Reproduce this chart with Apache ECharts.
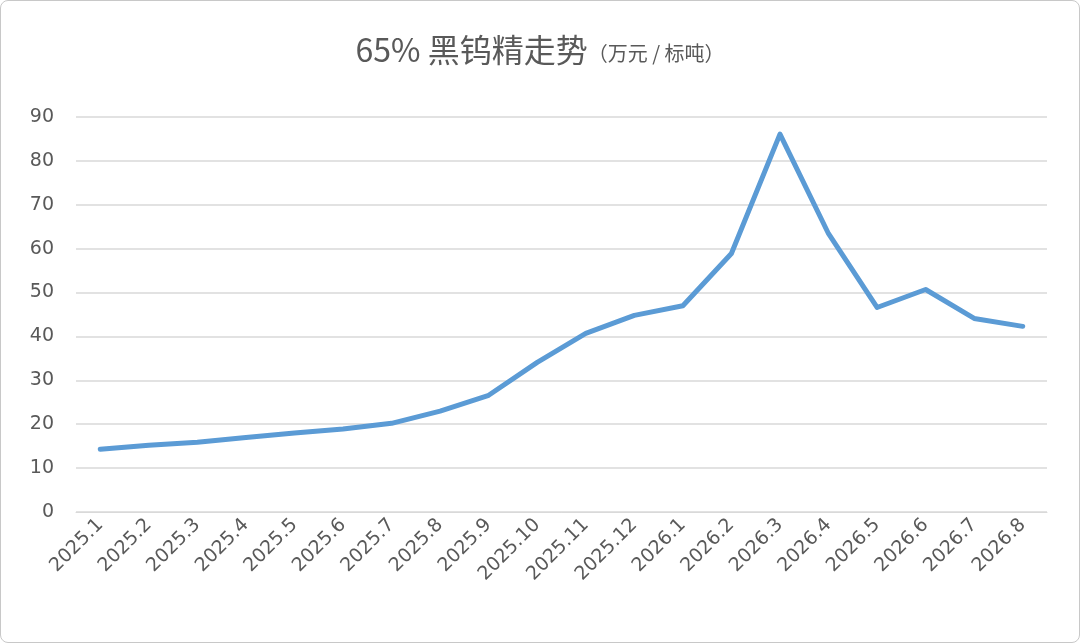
<!DOCTYPE html>
<html>
<head>
<meta charset="utf-8">
<script src="https://cdn.jsdelivr.net/npm/echarts@6/dist/echarts.min.js"></script>
<style>
  html, body { margin: 0; padding: 0; background: #fff; }
  #chart { width: 1078px; height: 641px; border: 1px solid #c8c8c8; border-radius: 8px; }
</style>
</head>
<body>
<div id="chart"></div>
<script>
// 65% black tungsten concentrate price trend
const months = ['2025.1', '2025.2', '2025.3', '2025.4', '2025.5', '2025.6', '2025.7', '2025.8', '2025.9', '2025.10',
  '2025.11', '2025.12', '2026.1', '2026.2', '2026.3', '2026.4', '2026.5', '2026.6', '2026.7', '2026.8'];
const prices = [14.3, 15.2, 15.9, 17.0, 18.0, 18.9, 20.2, 23.0, 26.6, 34.1,
  40.7, 44.8, 47.0, 58.9, 86.1, 63.4, 46.6, 50.7, 44.1, 42.3];

const chart = echarts.init(document.getElementById('chart'), null, { renderer: 'canvas' });
chart.setOption({
  animation: false,
  title: {
    text: '{a|65% 黑钨精走势}{b|（万元 / 标吨）}',
    left: 'center',
    top: 28,
    textStyle: {
      rich: {
        a: { fontSize: 32, color: '#595959', fontWeight: 'normal', fontFamily: 'Noto Sans CJK SC' },
        b: { fontSize: 20, color: '#595959', fontWeight: 'normal', fontFamily: 'Noto Sans CJK SC', padding: [6, 0, 0, 0] },
      },
    },
  },
  grid: { left: 75, right: 32, top: 116, bottom: 130 },
  xAxis: {
    type: 'category',
    data: months,
    axisTick: { show: false },
    axisLine: { lineStyle: { color: '#d9d9d9' } },
    axisLabel: { rotate: 45, color: '#595959', fontSize: 19, margin: 10, interval: 0, fontFamily: 'DejaVu Sans' },
  },
  yAxis: {
    type: 'value',
    min: 0,
    max: 90,
    interval: 10,
    axisLabel: { color: '#595959', fontSize: 19, margin: 22, fontFamily: 'DejaVu Sans' },
    splitLine: { lineStyle: { color: '#d9d9d9', width: 1.5 } },
  },
  series: [{
    type: 'line',
    data: prices,
    symbol: 'none',
    lineStyle: { color: '#5b9bd5', width: 5, join: 'round', cap: 'round' },
  }],
});
</script>
</body>
</html>
